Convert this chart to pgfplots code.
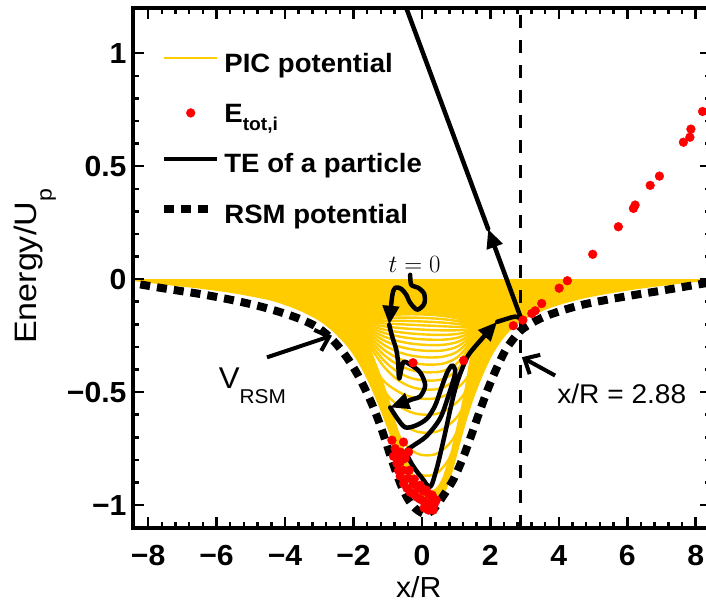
\documentclass[border=0pt]{standalone}
\usepackage[no-math]{fontspec}
\newfontfamily\lab{Liberation Sans}[FakeStretch=1.04]
\newfontfamily\labw{Liberation Sans}[FakeStretch=1.1]
\usepackage{pgfplots}
\usepackage{pgfplotstable}
\pgfplotsset{compat=1.18}
\usetikzlibrary{arrows.meta}
\definecolor{pic}{RGB}{255,204,0}
\definecolor{edot}{RGB}{255,0,0}

% PIC potential curves in the upper part of the well (columns f1..f13), t = edge of the solid band
\pgfplotstableread{
x      t       f1      f2      f3      f4      f5      f6      f7      f8      f9      f10     f11     f12     f13
-1.85  -0.190  -0.190  -0.190  -0.190  -0.190  -0.190  -0.190  -0.190  -0.190  -0.190  -0.190  -0.190  -0.190  -0.190
-1.68  -0.1827 -0.1854 -0.1883 -0.1914 -0.1948 -0.1986 -0.2025 -0.2069 -0.2115 -0.2168 -0.2225 -0.2286 -0.2353 -0.2425
-1.5   -0.1746 -0.1803 -0.1864 -0.1929 -0.2001 -0.2081 -0.2164 -0.2256 -0.2354 -0.2465 -0.2586 -0.2715 -0.2856 -0.3008
-1.1   -0.1634 -0.1736 -0.1845 -0.1961 -0.2090 -0.2233 -0.2382 -0.2546 -0.2722 -0.2920 -0.3137 -0.3368 -0.3620 -0.3892
-0.7   -0.1573 -0.1704 -0.1843 -0.1991 -0.2156 -0.2339 -0.2530 -0.2739 -0.2965 -0.3217 -0.3496 -0.3792 -0.4114 -0.4462
-0.3   -0.1555 -0.1701 -0.1856 -0.2021 -0.2205 -0.2409 -0.2622 -0.2855 -0.3107 -0.3388 -0.3699 -0.4029 -0.4388 -0.4776
0.15   -0.1573 -0.1723 -0.1883 -0.2053 -0.2243 -0.2453 -0.2673 -0.2913 -0.3173 -0.3463 -0.3783 -0.4123 -0.4493 -0.4893
0.6    -0.1624 -0.1768 -0.1921 -0.2085 -0.2267 -0.2469 -0.2680 -0.2910 -0.3160 -0.3438 -0.3745 -0.4072 -0.4427 -0.4811
1.0    -0.1728 -0.1848 -0.1976 -0.2112 -0.2264 -0.2432 -0.2608 -0.2800 -0.3008 -0.3240 -0.3496 -0.3768 -0.4064 -0.4384
1.3    -0.1881 -0.1959 -0.2042 -0.2130 -0.2229 -0.2338 -0.2453 -0.2577 -0.2713 -0.2863 -0.3030 -0.3207 -0.3399 -0.3607
1.48   -0.2011 -0.2052 -0.2095 -0.2141 -0.2192 -0.2249 -0.2308 -0.2373 -0.2443 -0.2521 -0.2608 -0.2700 -0.2800 -0.2908
1.65   -0.215  -0.215  -0.215  -0.215  -0.215  -0.215  -0.215  -0.215  -0.215  -0.215  -0.215  -0.215  -0.215  -0.215
}\fanlines

% E_tot,i of the ions
\pgfplotstableread{
x y
2.67 -0.206
2.95 -0.181
3.21 -0.152
3.31 -0.140
3.50 -0.108
4.01 -0.040
4.25 -0.007
4.99 0.110
5.74 0.232
6.18 0.313
6.23 0.328
6.67 0.415
6.94 0.456
7.64 0.606
7.83 0.628
7.86 0.664
8.20 0.742
1.22 -0.360
-0.26 -0.370
-0.876 -0.713
-0.537 -0.721
-0.391 -0.765
-0.780 -0.750
-0.829 -0.784
-0.730 -0.816
-0.683 -0.846
-0.634 -0.872
-0.537 -0.904
-0.438 -0.925
-0.342 -0.943
-0.245 -0.951
-0.146 -0.965
-0.050 -0.974
0.047 -0.982
0.146 -0.991
0.242 -1.000
0.339 -1.007
0.388 -0.987
0.292 -0.965
0.193 -0.951
0.047 -0.938
-0.108 -0.925
-0.254 -0.907
-0.400 -0.881
-0.546 -0.846
-0.634 -0.810
-0.720 -0.779
-0.620 -0.766
-0.490 -0.793
-0.370 -0.846
-0.225 -0.885
-0.050 -0.912
0.126 -0.934
0.300 -0.956
0.418 -0.978
0.193 -1.022
0.067 -1.013
0.330 -1.022
}\etot

\begin{document}
\begin{tikzpicture}
\begin{axis}[
  at={(132.7bp,76.3bp)}, anchor=south west,
  scale only axis, width=578.4bp, height=519.7bp,
  xmin=-8.45, xmax=8.45, ymin=-1.1, ymax=1.2,
  axis on top,
  axis line style={line width=4bp},
  tick pos=both, tick align=inside,
  major tick length=11bp, minor tick length=6bp,
  tick style={black, line width=2.5bp},
  xtick={-8,-6,-4,-2,0,2,4,6,8},
  xticklabels={−8,−6,−4,−2,0,2,4,6,8},
  ytick={-1,-0.5,0,0.5,1},
  yticklabels={−1,−0.5,0,0.5,1},
  minor x tick num=4, minor y tick num=4,
  ticklabel style={font=\lab\bfseries\fontsize{29bp}{29bp}\selectfont, inner sep=0pt},
  xticklabel style={anchor=north, yshift=-17.5bp},
  yticklabel style={anchor=east, xshift=-6bp},
  xlabel={x/R},
  ylabel={Energy/U\raisebox{-15bp}{\fontsize{21bp}{21bp}\selectfont p}},
  every axis x label/.style={at={(axis description cs:0.4944,0)}, anchor=base, yshift=-69.5bp,
    font=\lab\fontsize{29bp}{29bp}\selectfont, inner sep=0pt},
  every axis y label/.style={at={(axis description cs:-0.166,0.5026)}, rotate=90, anchor=base,
    font=\labw\fontsize{31bp}{31bp}\selectfont, inner sep=0pt},
  legend style={draw=none, fill=none, at={(axis description cs:0.0472,0.9131)}, anchor=north west,
    inner sep=0pt, row sep=30bp, column sep=5.5bp, nodes={inner sep=0pt},
    font=\lab\bfseries\fontsize{26.5bp}{26.5bp}\selectfont},
  legend cell align=left,
]
% legend
\addlegendimage{legend image code/.code={\draw[pic, line width=2bp] (0bp,5.5bp) -- (52.7bp,5.5bp);}}
\addlegendentry{PIC potential}
\addlegendimage{legend image code/.code={\draw[edot] plot[only marks, mark=*, mark size=4.4bp] coordinates {(26.5bp,1bp)};}}
\addlegendentry{E\raisebox{-8.5bp}{\fontsize{18.5bp}{18.5bp}\selectfont tot,i}\rule[-26.5bp]{0pt}{26.5bp}}
\addlegendimage{legend image code/.code={\draw[black, line width=4bp] (0bp,5.5bp) -- (52.7bp,5.5bp);}}
\addlegendentry{TE of a particle}
\addlegendimage{legend image code/.code={\draw[black, line width=8bp, dash pattern=on 10bp off 7bp] (0bp,5.5bp) -- (44bp,5.5bp);}}
\addlegendentry{RSM potential}

% PIC potential: band between 0 and the deepest curve
\addplot[forget plot, draw=none, fill=pic, smooth] coordinates {
(-9.0,0) (-8.45,-0.008) (-7.5,-0.025) (-6.5,-0.042) (-5.5,-0.063) (-4.5,-0.092) (-4.0,-0.115)
(-3.5,-0.145) (-3.0,-0.185) (-2.6,-0.232) (-2.2,-0.295) (-1.9,-0.36) (-1.6,-0.445) (-1.3,-0.548)
(-1.0,-0.665) (-0.75,-0.77) (-0.5,-0.86) (-0.25,-0.93) (0.0,-0.975) (0.25,-0.998) (0.45,-0.995)
(0.65,-0.955) (0.85,-0.875) (1.0,-0.795) (1.15,-0.71) (1.3,-0.63) (1.5,-0.535) (1.7,-0.455)
(1.9,-0.385) (2.1,-0.325) (2.35,-0.268) (2.6,-0.225) (3.0,-0.178) (3.5,-0.142) (4.0,-0.115)
(4.5,-0.094) (5.0,-0.077) (5.5,-0.063) (6.0,-0.051) (6.5,-0.040) (7.0,-0.030) (7.5,-0.021)
(8.0,-0.013) (8.45,-0.007) (9.0,0)};
% open part of the well where the single curves separate
\addplot[forget plot, draw=none, fill=white] coordinates {
(-1.85,-0.190) (-1.68,-0.1827) (-1.5,-0.1746) (-1.1,-0.1634) (-0.7,-0.1573) (-0.3,-0.1555)
(0.15,-0.1573) (0.6,-0.1624) (1.0,-0.1728) (1.3,-0.1881) (1.48,-0.2011) (1.65,-0.215)
(1.5,-0.3) (1.4,-0.38) (1.3,-0.47) (1.2,-0.55) (1.08,-0.63) (0.96,-0.71) (0.83,-0.79) (0.7175,-0.84)
(0.671,-0.865) (0.601,-0.89) (0.484,-0.92) (0.367,-0.936) (0.25,-0.94) (0.102,-0.936)
(-0.0465,-0.92) (-0.195,-0.89) (-0.284,-0.865) (-0.343,-0.84)
(-0.4,-0.82) (-0.6,-0.73) (-0.8,-0.63) (-1.0,-0.53) (-1.2,-0.44) (-1.4,-0.36) (-1.6,-0.28)};
\pgfplotsset{piccurve/.style={forget plot, pic, line width=2.4bp, smooth}}
\addplot[piccurve] table[x=x, y=t] {\fanlines};
\foreach \c in {f1,f2,f3,f4,f5,f6,f7,f8,f9,f10,f11,f12,f13}{
  \addplot[piccurve] table[x=x, y=\c] {\fanlines};
}
\addplot[piccurve] coordinates {(-1.85,-0.19) (-1.6,-0.28) (-1.4,-0.36) (-1.2,-0.44) (-1.0,-0.53) (-0.8,-0.63) (-0.6,-0.73) (-0.4,-0.82) (-0.343,-0.84)};
\addplot[piccurve] coordinates {(1.65,-0.215) (1.5,-0.3) (1.4,-0.38) (1.3,-0.47) (1.2,-0.55) (1.08,-0.63) (0.96,-0.71) (0.83,-0.79) (0.7175,-0.84)};
\addplot[piccurve] coordinates {(-1.225,-0.43) (-1.0875,-0.455) (-0.881,-0.48) (-0.5375,-0.51) (-0.194,-0.526) (0.15,-0.53) (0.4485,-0.526) (0.747,-0.51) (1.0455,-0.48) (1.2246,-0.455) (1.344,-0.43)};
\addplot[piccurve] coordinates {(-1.067,-0.50) (-0.945,-0.525) (-0.763,-0.55) (-0.4585,-0.58) (-0.154,-0.596) (0.15,-0.60) (0.428,-0.596) (0.706,-0.58) (0.984,-0.55) (1.151,-0.525) (1.2625,-0.50)};
\addplot[piccurve] coordinates {(-0.9,-0.58) (-0.795,-0.605) (-0.6375,-0.63) (-0.375,-0.66) (-0.1125,-0.676) (0.15,-0.68) (0.401,-0.676) (0.6525,-0.66) (0.904,-0.63) (1.0545,-0.605) (1.155,-0.58)};
\addplot[piccurve] coordinates {(-0.7,-0.68) (-0.615,-0.705) (-0.4875,-0.73) (-0.275,-0.76) (-0.0625,-0.776) (0.15,-0.78) (0.364,-0.776) (0.5775,-0.76) (0.791,-0.73) (0.9195,-0.705) (1.005,-0.68)};
\addplot[piccurve] coordinates {(-0.511,-0.77) (-0.445,-0.795) (-0.346,-0.82) (-0.18,-0.85) (-0.015,-0.866) (0.15,-0.87) (0.328,-0.866) (0.506,-0.85) (0.684,-0.82) (0.791,-0.795) (0.8625,-0.77)};
\addplot[piccurve] coordinates {(-0.343,-0.84) (-0.284,-0.865) (-0.195,-0.89) (-0.0465,-0.92) (0.102,-0.936) (0.25,-0.94) (0.367,-0.936) (0.484,-0.92) (0.601,-0.89) (0.671,-0.865) (0.7175,-0.84)};

% RSM potential
\addplot[forget plot, black, line width=8bp, dash pattern=on 10bp off 7bp, smooth] coordinates {
(-8.72,-0.010) (-8.32,-0.021) (-7.74,-0.036) (-7.11,-0.051) (-6.47,-0.066) (-5.89,-0.082)
(-5.31,-0.100) (-4.72,-0.121) (-4.14,-0.146) (-3.55,-0.177) (-3.03,-0.215) (-2.59,-0.272)
(-2.19,-0.347) (-1.85,-0.430) (-1.51,-0.535) (-1.27,-0.625) (-1.07,-0.712) (-0.83,-0.822)
(-0.58,-0.922) (-0.29,-1.000) (0.05,-1.038) (0.30,-1.025) (0.53,-0.980) (0.92,-0.887)
(1.21,-0.787) (1.46,-0.684) (1.70,-0.580) (1.95,-0.478) (2.19,-0.392) (2.48,-0.305)
(2.87,-0.230) (3.26,-0.190) (3.65,-0.162) (4.13,-0.137) (4.67,-0.114) (5.21,-0.097)
(5.79,-0.081) (6.37,-0.066) (6.96,-0.052) (7.54,-0.037) (8.13,-0.022) (8.72,-0.008)};

% x/R = 2.88
\addplot[forget plot, black, line width=3.5bp, dash pattern=on 13bp off 12bp] coordinates {(2.88,-1.1) (2.88,1.2)};

% total energy of one particle
\pgfplotsset{te/.style={forget plot, black, line width=4.5bp, line cap=round, line join=round}}
\addplot[te, smooth, tension=0.5, -{Triangle[length=19bp,width=16bp]}] coordinates {
(-0.342,0.019) (-0.312,-0.025) (-0.108,-0.038) (0.067,-0.065) (0.067,-0.109) (-0.137,-0.135)
(-0.342,-0.105) (-0.458,-0.069) (-0.604,-0.043) (-0.780,-0.038) (-0.867,-0.074) (-0.955,-0.202)};
\addplot[te, smooth, tension=0.5, -{Triangle[length=19bp,width=16bp]}] coordinates {
(-0.955,-0.202) (-0.867,-0.255) (-0.750,-0.311) (-0.692,-0.373) (-0.663,-0.440) (-0.546,-0.369)
(-0.342,-0.378) (-0.050,-0.413) (0.096,-0.470) (-0.050,-0.519) (-0.283,-0.532) (-0.926,-0.568)};
\addplot[te, smooth, tension=0.5, -{Triangle[length=19bp,width=16bp]}] coordinates {
(-0.926,-0.568) (-0.721,-0.616) (-0.488,-0.656) (-0.166,-0.647) (0.155,-0.616) (0.388,-0.559)
(0.563,-0.484) (0.739,-0.413) (0.885,-0.382) (0.972,-0.413) (0.797,-0.506) (0.534,-0.616)
(0.126,-0.696) (-0.283,-0.740) (-0.458,-0.766) (-0.254,-0.828) (0.009,-0.881) (0.242,-0.920)
(0.418,-0.846) (0.564,-0.757) (0.709,-0.660) (0.855,-0.559) (1.001,-0.471) (1.177,-0.396)
(1.410,-0.325) (2.199,-0.189)};
\addplot[te, smooth, tension=0.5] coordinates {(2.199,-0.189) (2.491,-0.175) (2.725,-0.166) (2.900,-0.175)};
\addplot[te, -{Triangle[length=19bp,width=16bp]}] coordinates {(2.900,-0.175) (1.936,0.222)};
\addplot[te] coordinates {(1.936,0.222) (-0.578,1.25)};

% ion energies
\addplot[forget plot, only marks, mark=*, mark size=4.4bp, edot] table[x=x, y=y] {\etot};

% annotations
\draw[line width=4bp, -{Straight Barb[length=12bp,width=22bp]}] (axis cs:-4.526,-0.346) -- (axis cs:-2.628,-0.250);
\draw[line width=4bp, -{Straight Barb[length=12bp,width=22bp]}] (axis cs:3.892,-0.4266) -- (axis cs:2.92,-0.3458);
\node[font=\lab\fontsize{30bp}{30bp}\selectfont, anchor=base west, inner sep=0pt] at (axis cs:-5.937,-0.485)
  {V\raisebox{-14.7bp}{\fontsize{20bp}{20bp}\selectfont RSM}};
\node[font=\lab\fontsize{27bp}{27bp}\selectfont, anchor=base, inner sep=0pt] at (axis cs:5.84,-0.5487) {x/R = 2.88};
\node[font=\fontsize{24.5bp}{24.5bp}\selectfont, anchor=base, inner sep=0pt] at (axis cs:-0.213,0.029) {$t=0$};
\end{axis}
\pgfresetboundingbox
\path[use as bounding box] (0,0) rectangle (706bp,604bp);
\end{tikzpicture}
\end{document}
